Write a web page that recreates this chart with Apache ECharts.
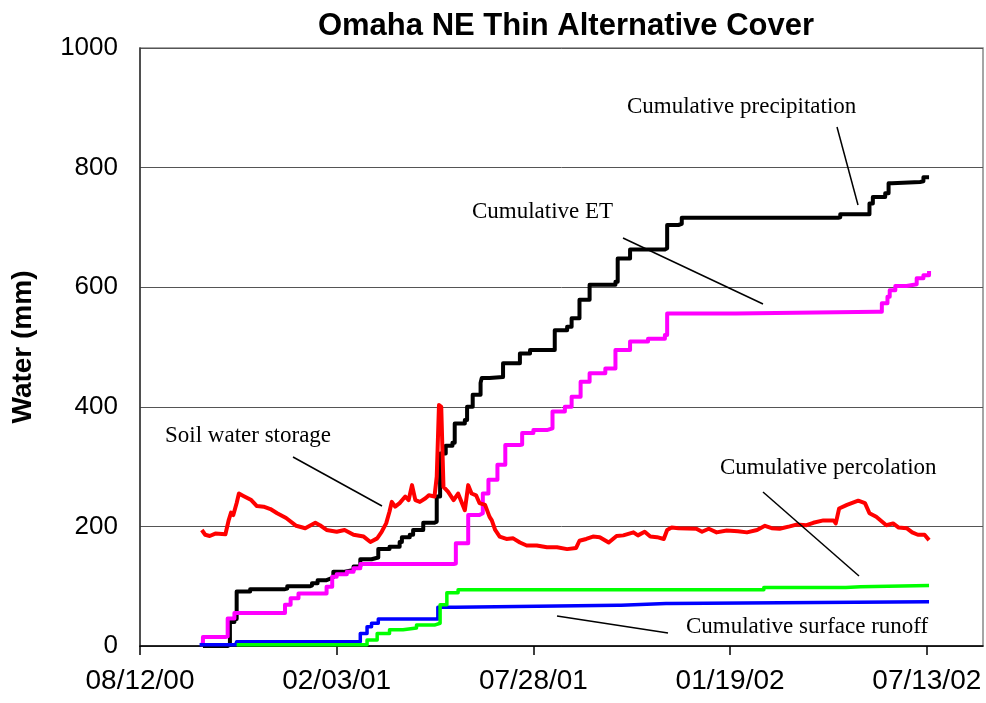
<!DOCTYPE html>
<html>
<head>
<meta charset="utf-8">
<script src="https://cdn.jsdelivr.net/npm/echarts@6/dist/echarts.min.js"></script>
<style>
  html, body { margin: 0; padding: 0; background: #fff; }
  #chart { width: 986px; height: 703px; }
</style>
</head>
<body>
<div id="chart"></div>
<script>
// x values are days after 08/12/00
const tickDays = [0, 175, 350, 525, 700];
const tickLabels = ["08/12/00", "02/03/01", "07/28/01", "01/19/02", "07/13/02"];
const yTicks = [0, 200, 400, 600, 800, 1000];

const precipitation = [
  [56, 0], [78, 2], [80, 40], [84, 45], [86, 91], [98, 95], [129, 96], [131, 100],
  [151, 101], [153, 105], [158, 110], [166, 113], [170, 115], [172, 124], [181, 127],
  [190, 133], [196, 145], [206, 148], [212, 162], [222, 166], [231, 174], [233, 182],
  [240, 186], [243, 194], [252, 206], [262, 208], [264, 250], [267, 322], [272, 335],
  [278, 340], [280, 372], [289, 378], [291, 400], [296, 420], [303, 440], [304, 448],
  [311, 450], [323, 473], [338, 489], [347, 495], [366, 495], [369, 528], [380, 534],
  [384, 548], [391, 579], [400, 604], [423, 609], [425, 648], [436, 663], [467, 665],
  [469, 704], [479, 706], [482, 716], [621, 717], [623, 722], [646, 722], [649, 740],
  [652, 751], [663, 757], [666, 774], [669, 776], [694, 777], [697, 784], [702, 784]
];

const et = [
  [54, 3], [56, 15], [76, 16], [78, 46], [84, 55], [123, 55], [129, 69], [134, 80],
  [141, 88], [162, 88], [166, 99], [171, 116], [175, 120], [184, 124], [190, 130],
  [196, 137], [279, 138], [281, 172], [290, 172], [292, 219], [302, 222], [305, 255],
  [310, 278], [318, 303], [325, 336], [338, 337], [340, 356], [350, 361], [362, 364],
  [367, 392], [378, 400], [384, 417], [392, 442], [400, 456], [414, 464], [423, 495],
  [436, 509], [452, 514], [467, 520], [469, 556], [528, 556], [530, 559], [656, 559],
  [660, 573], [665, 584], [667, 595], [672, 602], [682, 605], [691, 615], [697, 620],
  [702, 627]
];

const runoff = [
  [53, 2], [85, 2], [86, 7], [194, 7], [196, 21], [202, 32], [206, 38], [212, 45],
  [263, 45], [265, 65], [281, 68], [425, 68], [428, 71], [468, 71], [471, 74], [702, 74]
];

const percolation = [
  [86, 2], [197, 2], [202, 10], [211, 21], [222, 27], [234, 30], [246, 35], [262, 38],
  [267, 69], [273, 89], [283, 94], [552, 94], [555, 98], [628, 99], [641, 101], [702, 101]
];

const soilWater = [
  [55, 194], [58, 186], [62, 184], [67, 188], [76, 187], [79, 211], [81, 223], [83, 219],
  [86, 239], [88, 255], [92, 251], [99, 244], [104, 234], [110, 233], [116, 229],
  [122, 222], [130, 214], [139, 201], [147, 197], [156, 206], [160, 202], [166, 194],
  [175, 191], [182, 194], [190, 186], [199, 183], [205, 174], [211, 180], [215, 191],
  [219, 205], [222, 225], [224, 241], [227, 233], [231, 239], [236, 250], [239, 244],
  [242, 269], [245, 244], [249, 241], [254, 247], [257, 252], [262, 250], [264, 283],
  [266, 403], [268, 400], [270, 266], [274, 258], [279, 244], [283, 255], [289, 227],
  [292, 269], [295, 255], [299, 252], [302, 239], [307, 236], [311, 216], [313, 210],
  [316, 194], [320, 183], [326, 179], [332, 180], [338, 173], [344, 168], [353, 168],
  [362, 165], [371, 165], [380, 162], [388, 164], [391, 176], [397, 179], [403, 183],
  [409, 182], [417, 173], [424, 184], [430, 185], [439, 190], [443, 185], [449, 191],
  [454, 183], [460, 182], [466, 179], [469, 194], [473, 198], [479, 197],
  [495, 196], [500, 191], [506, 196], [513, 190],
  [522, 193], [532, 192], [540, 190], [549, 194], [556, 201], [562, 197], [569, 196],
  [578, 200], [584, 203], [593, 202], [599, 206], [608, 210], [617, 210], [619, 205],
  [622, 230], [629, 236], [639, 243], [645, 239], [649, 222], [655, 216], [664, 202],
  [670, 205], [675, 198], [682, 197], [687, 190], [692, 186], [698, 186], [702, 177]
];

const sans = "'Liberation Sans', Arial, sans-serif";
const serif = "'Liberation Serif', 'Times New Roman', serif";

const chart = echarts.init(document.getElementById("chart"), null, { renderer: "canvas" });

const lineSeries = (name, data, color, width, step) => ({
  name: name,
  type: "line",
  data: data,
  step: step,
  showSymbol: false,
  symbol: "none",
  lineStyle: { color: color, width: width, join: "round" },
  itemStyle: { color: color },
  clip: false,
});

const note = (text, left, top) => ({
  type: "text",
  left: left,
  top: top,
  style: { text: text, font: "23px " + serif, fill: "#000" },
});

const leader = (x1, y1, x2, y2) => ({
  type: "line",
  shape: { x1: x1, y1: y1, x2: x2, y2: y2 },
  style: { stroke: "#000", lineWidth: 1.5 },
  z: 100,
});

const option = {
  animation: false,
  backgroundColor: "#fff",
  title: {
    text: "Omaha NE Thin Alternative Cover",
    left: 561,
    top: 6,
    textAlign: "center",
    textStyle: { fontFamily: sans, fontWeight: "bold", fontSize: 31, color: "#000" },
  },
  grid: {
    left: 140,
    right: 3,
    top: 48,
    bottom: 57,
    show: true,
    borderColor: "#888",
    borderWidth: 1.5,
  },
  xAxis: {
    type: "value",
    min: 0,
    max: 750,
    interval: 175,
    axisLine: { lineStyle: { color: "#000", width: 1.5 } },
    axisTick: {
      show: true,
      inside: false,
      length: 9,
      customValues: tickDays,
      lineStyle: { color: "#000", width: 1.5 },
    },
    axisLabel: {
      customValues: tickDays,
      margin: 21,
      fontFamily: sans,
      fontSize: 28,
      color: "#000",
      formatter: (v) => {
        const i = tickDays.indexOf(v);
        return i >= 0 ? tickLabels[i] : "";
      },
    },
    splitLine: { show: false },
  },
  yAxis: {
    type: "value",
    min: yTicks[0],
    max: yTicks[yTicks.length - 1],
    interval: 200,
    name: "Water (mm)",
    nameLocation: "middle",
    nameGap: 103,
    nameTextStyle: { fontFamily: sans, fontWeight: "bold", fontSize: 28, color: "#000" },
    axisLine: { show: true, lineStyle: { color: "#333", width: 1.5 } },
    axisTick: { show: false },
    axisLabel: {
      margin: 22,
      fontFamily: sans,
      fontSize: 26,
      color: "#000",
      formatter: (v) => String(v),
    },
    splitLine: { show: true, lineStyle: { color: "#555", width: 1 } },
  },
  series: [
    lineSeries("Cumulative precipitation", precipitation, "#000000", 4, "end"),
    lineSeries("Cumulative ET", et, "#ff00ff", 4, "end"),
    lineSeries("Cumulative surface runoff", runoff, "#0000ff", 3.5, "end"),
    lineSeries("Cumulative percolation", percolation, "#00ff00", 3.5, "end"),
    lineSeries("Soil water storage", soilWater, "#ff0000", 4, false),
  ],
  graphic: [
    note("Cumulative precipitation", 627, 95),
    note("Cumulative ET", 472, 200),
    note("Soil water storage", 165, 424),
    note("Cumulative percolation", 720, 456),
    note("Cumulative surface runoff", 686, 615),
    leader(837, 127, 858, 205),
    leader(623, 238, 763, 304),
    leader(293, 457, 382, 506),
    leader(763, 492, 859, 576),
    leader(557, 616, 668, 633),
  ],
};

chart.setOption(option);
window.addEventListener("resize", () => chart.resize());
</script>
</body>
</html>
